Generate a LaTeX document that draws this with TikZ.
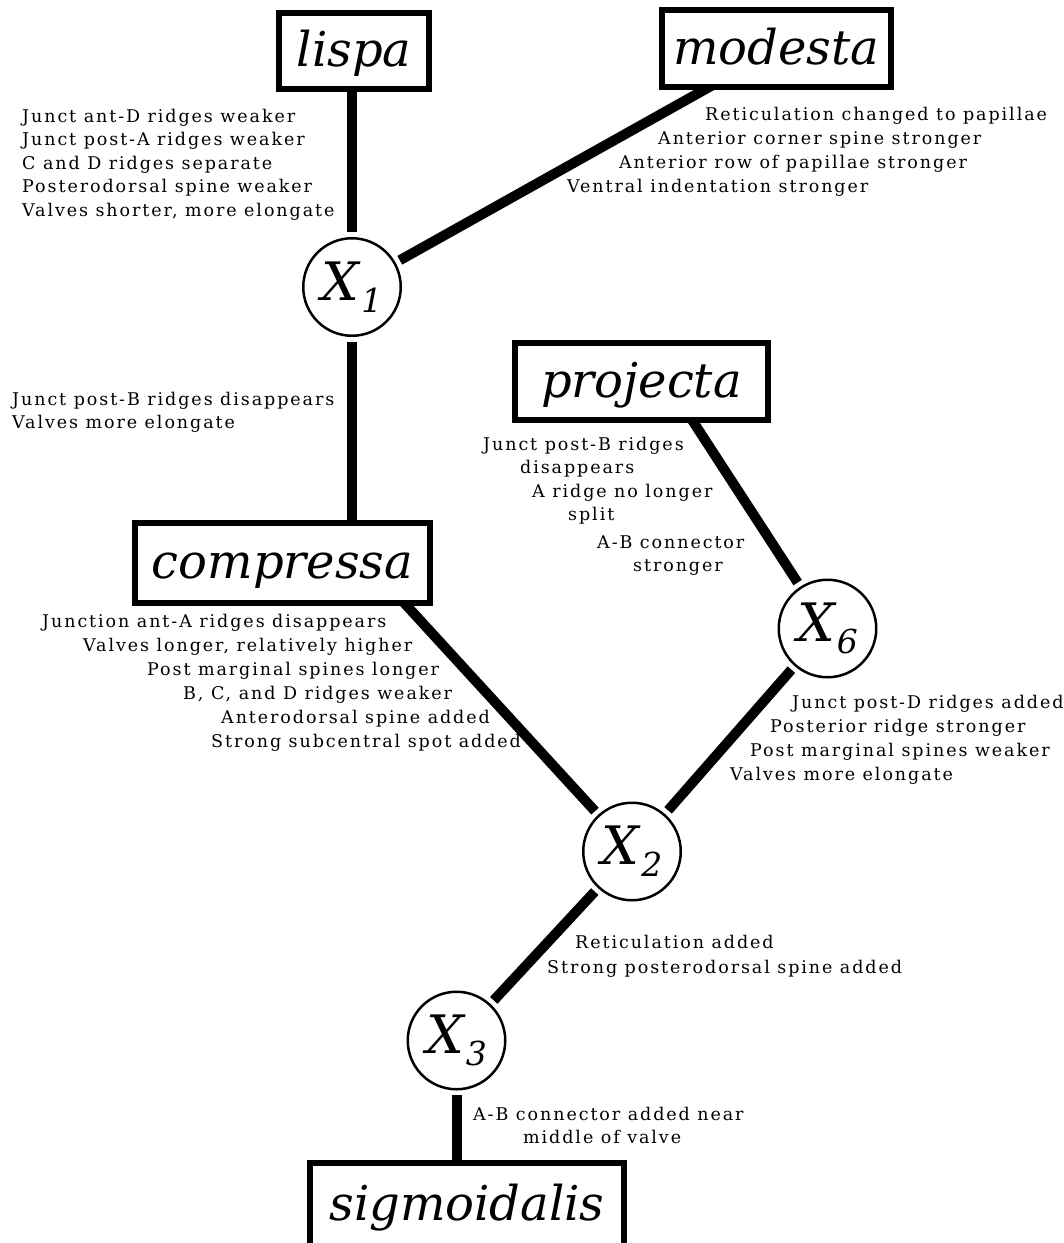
\documentclass[tikz,border=0pt]{standalone}
\usepackage{fontspec}
\setmainfont{DejaVu Serif}
\newfontfamily\notefont[LetterSpace=11]{DejaVu Serif}
\newfontfamily\taxfont{DejaVu Serif}
\usetikzlibrary{backgrounds}
\newcommand\anclabel[1]{X\kern2pt\raisebox{-12pt}{\fontsize{33}{33}\selectfont #1}}
\begin{document}
\begin{tikzpicture}[x=1pt,y=-1pt,
  taxon/.style={draw, line width=6pt, fill=white, inner sep=0pt,
    text height=40pt, text depth=9pt,
    font=\taxfont\itshape\fontsize{48}{50}\selectfont},
  anc/.style={circle, draw, line width=2.5pt, fill=white, minimum size=97.5pt,
    inner sep=0pt, outer sep=6pt, font=\taxfont\itshape\fontsize{53}{53}\selectfont},
  note/.style={align=left, inner sep=0pt, anchor=base west},
  branch/.style={line width=10pt},
  toext/.style={shorten >=-20pt}]
\useasboundingbox (0,0) rectangle (1064,1243);
\clip (0,0) rectangle (1064,1243);

% taxa
\node[taxon, minimum width=150pt, minimum height=76pt] (lispa) at (354,51) {lispa};
\node[taxon, minimum width=229pt, minimum height=77pt] (modesta) at (776.5,48.5) {modesta};
\node[taxon, minimum width=295pt, minimum height=80pt] (compressa) at (282.5,563) {compressa};
\node[taxon, minimum width=253pt, minimum height=77pt] (projecta) at (641.5,381.5) {projecta};
\node[taxon, minimum width=314pt, minimum height=84pt] (sig) at (467,1205) {sigmoidalis};

% ancestors
\node[anc] (X1) at (352,287) {\anclabel{1}};
\node[anc] (X6) at (827.5,628.5) {\anclabel{6}};
\node[anc] (X2) at (632,851.5) {\anclabel{2}};
\node[anc] (X3) at (456.5,1040.5) {\anclabel{3}};

% branches
\begin{scope}[on background layer]
\fill[white] (0,0) rectangle (1064,1243);
\draw[branch] (X1) -- (X1 |- lispa.center);
\draw[branch, toext] (X1) -- ([xshift=45pt]modesta.south west);
\draw[branch] (X1) -- (X1 |- compressa.center);
\draw[branch, toext] (X6) -- ([xshift=-77pt]projecta.south east);
\draw[branch, toext] (X2) -- ([xshift=-26pt]compressa.south east);
\draw[branch] (X6) -- (X2);
\draw[branch] (X2) -- (X3);
\draw[branch] (X3) -- (X3 |- sig.center);
\end{scope}

% character notes (anchored at the baseline of their last line)
\node[note, font=\notefont\fontsize{17.5}{23.5}\selectfont] (nlispa) at (22,216)
  {Junct ant-D ridges weaker\\Junct post-A ridges weaker\\C and D ridges separate\\Posterodorsal spine weaker\\Valves shorter, more elongate};
\node[note, font=\notefont\fontsize{17.5}{23.7}\selectfont] (nmodesta) at (567,192)
  {\hspace*{138pt}Reticulation changed to papillae\\\hspace*{91pt}Anterior corner spine stronger\\\hspace*{52pt}Anterior row of papillae stronger\\Ventral indentation stronger};
\node[note, font=\notefont\fontsize{17.5}{23}\selectfont] (nX1) at (12,428)
  {Junct post-B ridges disappears\\Valves more elongate};
\node[note, font=\notefont\fontsize{17.5}{23.5}\selectfont] (nprojecta) at (483,571.5)
  {Junct post-B ridges\\\hspace*{37pt}disappears\\\hspace*{49pt}A ridge no longer\\\hspace*{85pt}split\\[4pt]\hspace*{114pt}A-B connector\\\hspace*{150pt}stronger};
\node[note, font=\notefont\fontsize{17.5}{24}\selectfont] (ncompressa) at (42,747)
  {Junction ant-A ridges disappears\\\hspace*{41pt}Valves longer, relatively higher\\\hspace*{105pt}Post marginal spines longer\\\hspace*{141pt}B, C, and D ridges weaker\\\hspace*{179pt}Anterodorsal spine added\\\hspace*{169pt}Strong subcentral spot added};
\node[note, font=\notefont\fontsize{17.5}{24}\selectfont] (nX6) at (730,780)
  {\hspace*{62pt}Junct post-D ridges added\\\hspace*{40pt}Posterior ridge stronger\\\hspace*{20pt}Post marginal spines weaker\\Valves more elongate};
\node[note, font=\notefont\fontsize{17.5}{25}\selectfont] (nX2) at (547,973)
  {\hspace*{28pt}Reticulation added\\Strong posterodorsal spine added};
\node[note, font=\notefont\fontsize{17.5}{23}\selectfont] (nX3) at (473,1143)
  {A-B connector added near\\\hspace*{50pt}middle of valve};
\end{tikzpicture}
\end{document}
